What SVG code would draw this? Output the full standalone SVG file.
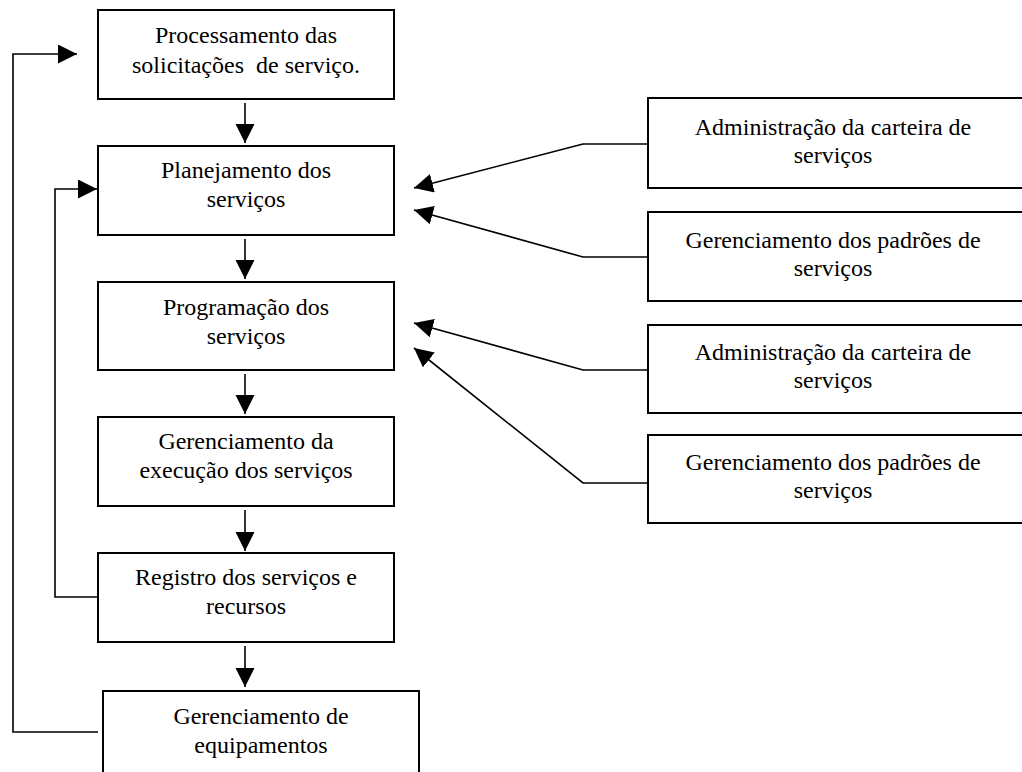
<svg xmlns="http://www.w3.org/2000/svg" width="1022" height="772" viewBox="0 0 1022 772">
<defs>
<style>
.box{fill:#fff;stroke:#000;stroke-width:2}
.t{font-family:'Liberation Serif','Times New Roman',Times,'DejaVu Serif',serif;font-size:24px;fill:#000;text-anchor:middle}
.c{fill:none;stroke:#000;stroke-width:1.6}
</style>
<marker id="ah" markerUnits="userSpaceOnUse" markerWidth="20" markerHeight="20" refX="19" refY="9.5" orient="auto" viewBox="0 0 20 20">
<path d="M0,0 L19,9.5 L0,19 Z" fill="#000"/>
</marker>
</defs>
<rect width="1022" height="772" fill="#fff"/>
<g id="n1"><rect class="box" x="98" y="10" width="296" height="89"/>
<text class="t" x="246" y="43" font-family="Liberation Serif, serif">Processamento das</text>
<text class="t" x="246" y="73" xml:space="preserve">solicitações  de serviço.</text></g>
<g id="n2"><rect class="box" x="98" y="146" width="296" height="89"/>
<text class="t" x="246" y="178">Planejamento dos</text>
<text class="t" x="246" y="207">serviços</text></g>
<g id="n3"><rect class="box" x="98" y="282" width="296" height="88"/>
<text class="t" x="246" y="315">Programação dos</text>
<text class="t" x="246" y="344">serviços</text></g>
<g id="n4"><rect class="box" x="98" y="417" width="296" height="89"/>
<text class="t" x="246" y="449">Gerenciamento da</text>
<text class="t" x="246" y="478">execução dos serviços</text></g>
<g id="n5"><rect class="box" x="98" y="553" width="296" height="89"/>
<text class="t" x="246" y="585">Registro dos serviços e</text>
<text class="t" x="246" y="614">recursos</text></g>
<g id="n6"><rect class="box" x="103" y="691" width="316" height="100"/>
<text class="t" x="261" y="724">Gerenciamento de</text>
<text class="t" x="261" y="753">equipamentos</text></g>
<g id="a1"><rect class="box" x="648" y="98" width="390" height="90"/>
<text class="t" x="833" y="135">Administração da carteira de</text>
<text class="t" x="833" y="163">serviços</text></g>
<g id="a2"><rect class="box" x="648" y="212" width="390" height="89"/>
<text class="t" x="833" y="248">Gerenciamento dos padrões de</text>
<text class="t" x="833" y="276">serviços</text></g>
<g id="a3"><rect class="box" x="648" y="325" width="390" height="88"/>
<text class="t" x="833" y="360">Administração da carteira de</text>
<text class="t" x="833" y="388">serviços</text></g>
<g id="a4"><rect class="box" x="648" y="435" width="390" height="88"/>
<text class="t" x="833" y="470">Gerenciamento dos padrões de</text>
<text class="t" x="833" y="498">serviços</text></g>
<g id="connectors">
<path class="c" d="M245 103 V143" marker-end="url(#ah)"/>
<path class="c" d="M245 239 V279" marker-end="url(#ah)"/>
<path class="c" d="M245 374 V414" marker-end="url(#ah)"/>
<path class="c" d="M245 510 V551" marker-end="url(#ah)"/>
<path class="c" d="M245 646 V687" marker-end="url(#ah)"/>
<path class="c" d="M98 732 H13 V54 H77" marker-end="url(#ah)"/>
<path class="c" d="M98 597 H55 V189 H97" marker-end="url(#ah)"/>
<path class="c" d="M648 144 H583 L414 188" marker-end="url(#ah)"/>
<path class="c" d="M648 257 H583 L414 210" marker-end="url(#ah)"/>
<path class="c" d="M648 370 H583 L414 323" marker-end="url(#ah)"/>
<path class="c" d="M648 483 H583 L414 348" marker-end="url(#ah)"/>
</g>
</svg>
